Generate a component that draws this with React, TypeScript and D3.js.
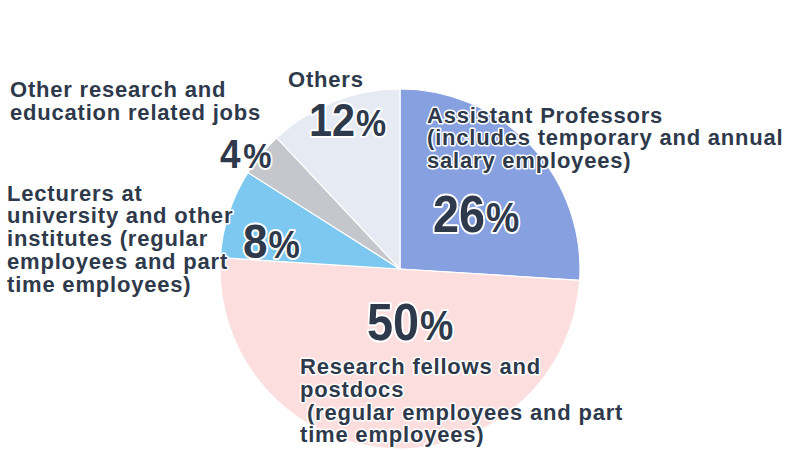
import React from "react";
import * as d3 from "d3";

const categories = [
  "Assistant Professors",
  "Research fellows and postdocs",
  "Lecturers",
  "Other research and education related jobs",
  "Others",
];
const values = [26, 50, 8, 4, 12];
const colors = ["#87a0df", "#fcdedf", "#7cc8f1", "#c5c7cc", "#e6eaf2"];

const labelLines = [
  ["Assistant Professors", "(includes temporary and annual", "salary employees)"],
  ["Research fellows and", "postdocs", " (regular employees and part", "time employees)"],
  ["Lecturers at", "university and other", "institutes (regular", "employees and part", "time employees)"],
  ["Other research and", "education related jobs"],
  ["Others"],
];

// layout (annotation positions)
const W = 800;
const H = 450;
const CX = 400;
const CY = 269;
const R = 180;
const TEXT = "#2e3a4b";

const nameLayout = [
  { x: 427, y: 122.7 },
  { x: 300, y: 374.3 },
  { x: 7, y: 200.7 },
  { x: 10, y: 97.3 },
  { x: 288, y: 86.7 },
];
const pctLayout = [
  { x: 433, y: 232, size: 52, pct: 0.8, gap: 1 },
  { x: 367, y: 340, size: 52, pct: 0.8, gap: 1 },
  { x: 243, y: 258, size: 49, pct: 0.8, gap: 1 },
  { x: 220, y: 168, size: 41, pct: 0.86, gap: 3 },
  { x: 309, y: 136, size: 46, pct: 0.82, gap: 1 },
];

export default function App() {
  const pie = d3
    .pie<number>()
    .sort(null)
    .startAngle(0)
    .endAngle(2 * Math.PI)
    .value((d) => d);
  const arcs = pie(values);
  const arc = d3.arc<d3.PieArcDatum<number>>().innerRadius(0).outerRadius(R);

  return (
    <svg
      width={W}
      height={H}
      viewBox={`0 0 ${W} ${H}`}
      style={{ position: "absolute", left: 0, top: 0, background: "#fff" }}
    >
      <g transform={`translate(${CX},${CY})`}>
        {arcs.map((a, i) => (
          <path
            key={categories[i]}
            d={arc(a) || ""}
            fill={colors[i]}
            stroke="#ffffff"
            strokeWidth={1.2}
          />
        ))}
      </g>
      {labelLines.map((lines, i) => (
        <text
          key={"n" + i}
          x={nameLayout[i].x}
          y={nameLayout[i].y}
          fontFamily="'Liberation Sans', Arial, sans-serif"
          fontWeight={700}
          fontSize={22}
          letterSpacing={0.8}
          fill={TEXT}
          stroke="#ffffff"
          strokeWidth={3}
          strokeLinejoin="round"
          style={{ paintOrder: "stroke", whiteSpace: "pre" }}
        >
          {lines.map((l, j) => (
            <tspan key={j} x={nameLayout[i].x} dy={j === 0 ? 0 : 22.7}>
              {l}
            </tspan>
          ))}
        </text>
      ))}
      {values.map((v, i) => (
        <text
          key={"p" + i}
          transform={`translate(${pctLayout[i].x},${pctLayout[i].y}) scale(0.9,1)`}
          fontFamily="'Liberation Sans', Arial, sans-serif"
          fontWeight={700}
          fill={TEXT}
          stroke="#ffffff"
          strokeWidth={4}
          strokeLinejoin="round"
          style={{ paintOrder: "stroke" }}
        >
          <tspan fontSize={pctLayout[i].size}>{v}</tspan>
          <tspan fontSize={pctLayout[i].size * pctLayout[i].pct} dx={pctLayout[i].gap}>
            %
          </tspan>
        </text>
      ))}
    </svg>
  );
}
